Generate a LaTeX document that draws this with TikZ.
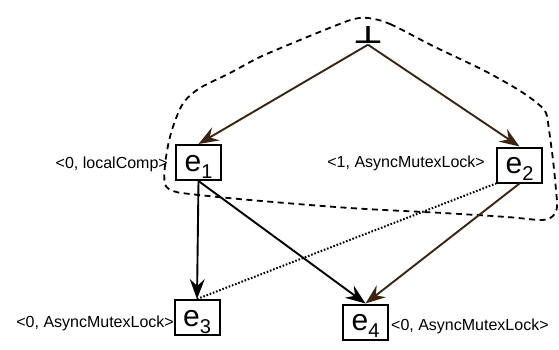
\documentclass[tikz,border=0pt]{standalone}
\usepackage{fontspec}
\setmainfont{Liberation Sans}
\newfontfamily\dejavu{DejaVu Sans}
\usetikzlibrary{arrows.meta}
\definecolor{brn}{RGB}{60,36,16}
\newcommand{\ev}[1]{{\fontsize{30}{30}\selectfont e}\raisebox{-7pt}{\fontsize{20}{20}\selectfont #1}}
\tikzset{
  ebox/.style={draw, line width=2pt, minimum width=45pt, minimum height=35pt, inner sep=0pt, text height=17pt, text depth=0pt},
  lbl/.style={inner sep=0pt, font=\fontsize{16}{16}\selectfont},
  arr/.style={line width=1.9pt, -{Stealth[length=20pt,width=15pt,inset=7pt]}},
  barr/.style={arr, draw=brn, -{Stealth[length=20pt,width=15pt,inset=7pt,fill=brn]}},
  region/.style={line width=1.8pt, dash pattern=on 6pt off 4.5pt},
  dotl/.style={line width=2pt, dash pattern=on 1.6pt off 1.8pt},
}
\begin{document}
\begin{tikzpicture}[x=1pt,y=-1pt]
\useasboundingbox (0,0) rectangle (559,349);
% dashed region
\draw[region] plot[smooth cycle, tension=0.55] coordinates {
 (368,18) (390,24) (433,46) (483,70) (517,89) (537,103) (546,113) (549,130) (553,160) (556,190) (557,207) (553,216) (542,220) (507,217) (443,213) (350,208) (250,200) (190,194) (173,191) (165,184) (165,165) (169,141) (175,121) (184,102) (200,88) (230,73) (260,57) (300,40) (337,25) (354,19)};
% nodes
\node[inner sep=1pt] (bot) at (368,35) {\resizebox{30pt}{17pt}{\dejavu\bfseries ⊥}};
\node[ebox] (e1) at (198.5,162.5) {\ev{1}};
\node[ebox] (e2) at (519.5,165) {\ev{2}};
\node[ebox] (e3) at (197,317.5) {\ev{3}};
\node[ebox] (e4) at (365.5,322) {\ev{4}};
% labels
\node[lbl, anchor=base east] (l1) at (168,168) {<0, localComp>};
\node[lbl, anchor=base east] (l2) at (485,167) {<1, AsyncMutexLock>};
\node[lbl, anchor=base east] (l3) at (174,327) {<0, AsyncMutexLock>};
\node[lbl, anchor=base west] (l4) at (391,330) {<0, AsyncMutexLock>};
% connectors
\draw[barr] (bot.south) -- (e1.north);
\draw[barr] (bot.south) -- (e2.north);
\draw[arr] (e1.south) -- (e3.north);
\draw[arr] (e1.south) -- (e4.north);
\draw[barr] (e2.south) -- (e4.north);
\draw[dotl] (e3.north) -- (e2.south west);
\end{tikzpicture}
\end{document}
